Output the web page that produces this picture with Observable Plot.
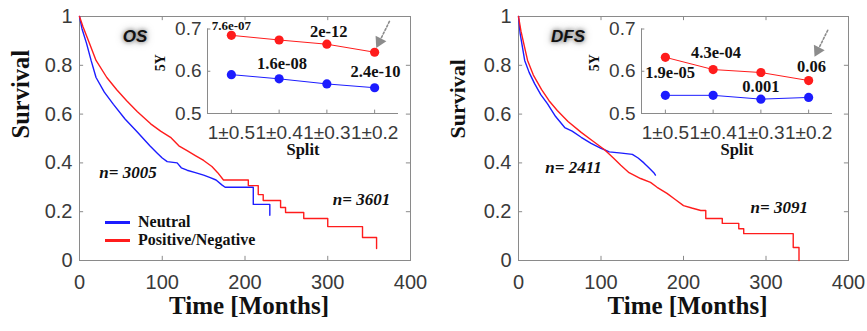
<!DOCTYPE html>
<html>
<head>
<meta charset="utf-8">
<script src="https://cdn.jsdelivr.net/npm/d3@7"></script>
<script src="https://cdn.jsdelivr.net/npm/@observablehq/plot@0.6"></script>
<style>
  html, body { margin: 0; padding: 0; background: #fff; }
  #wrap { position: relative; width: 867px; height: 331px; overflow: hidden; }
  #wrap > svg, #wrap > div { position: absolute; }
</style>
</head>
<body>
<div id="wrap"></div>
<script>
// ---------------- DATA ----------------
const seriesNames = ["Neutral", "Positive/Negative"];
const seriesColors = ["#1c1cff", "#ff1c1c"];
const timeTicks = [0, 100, 200, 300, 400];
const survTicks = [0, 0.2, 0.4, 0.6, 0.8, 1];

// OS Kaplan-Meier curves (time in months, survival)
const osNeutralT = [0, 3, 8.5, 14, 20, 30, 41, 55, 69, 85, 94, 100, 106, 118, 123, 130, 140, 150, 158, 165, 172, 176, 210, 210, 230, 230];
const osNeutralS = [1, 0.95, 0.89, 0.82, 0.75, 0.69, 0.64, 0.58, 0.53, 0.47, 0.44, 0.42, 0.405, 0.40, 0.38, 0.37, 0.36, 0.35, 0.34, 0.33, 0.31, 0.30, 0.30, 0.23, 0.23, 0.185];
const osPosT = [0, 4, 12, 20, 33, 45, 57, 70, 86, 98, 110, 120, 130, 140, 150, 160, 167, 174, 204, 204, 216, 216, 222, 222, 243, 243, 249, 249, 271, 271, 300, 300, 342, 342, 359, 359];
const osPosS = [1, 0.96, 0.89, 0.82, 0.75, 0.70, 0.655, 0.61, 0.56, 0.53, 0.505, 0.47, 0.45, 0.43, 0.41, 0.385, 0.36, 0.33, 0.33, 0.307, 0.307, 0.27, 0.27, 0.246, 0.246, 0.217, 0.217, 0.197, 0.197, 0.172, 0.172, 0.139, 0.139, 0.094, 0.094, 0.049];

// DFS Kaplan-Meier curves
const dfsNeutralT = [0, 2, 7.5, 13, 19.5, 27, 35, 45, 56, 65, 76, 88, 100, 110, 125, 138, 145, 152, 158, 164, 166];
const dfsNeutralS = [1, 0.93, 0.82, 0.77, 0.725, 0.68, 0.643, 0.59, 0.545, 0.53, 0.505, 0.48, 0.46, 0.445, 0.44, 0.435, 0.42, 0.40, 0.38, 0.36, 0.35];
const dfsPosT = [0, 3, 7, 11, 18, 28, 37, 47, 60, 76, 90, 104, 115, 124, 134, 148, 160, 168, 180, 190, 200, 210, 221, 227, 227, 247, 247, 267, 267, 273, 273, 333, 333, 340, 340];
const dfsPosS = [1, 0.94, 0.88, 0.82, 0.76, 0.70, 0.655, 0.615, 0.57, 0.525, 0.49, 0.455, 0.42, 0.39, 0.36, 0.336, 0.32, 0.30, 0.275, 0.25, 0.225, 0.215, 0.205, 0.205, 0.172, 0.172, 0.152, 0.152, 0.13, 0.13, 0.11, 0.11, 0.053, 0.053, 0];

// Inset: 5-year survival by split
const splits = ["1\u00b10.5", "1\u00b10.4", "1\u00b10.3", "1\u00b10.2"];
const os5yNeutral = [0.592, 0.582, 0.570, 0.561];
const os5yPos = [0.685, 0.674, 0.664, 0.645];
const dfs5yNeutral = [0.543, 0.543, 0.534, 0.538];
const dfs5yPos = [0.633, 0.604, 0.597, 0.578];
const osPvalues = ["7.6e-07", "1.6e-08", "2e-12", "2.4e-10"];
const dfsPvalues = ["1.9e-05", "4.3e-04", "0.001", "0.06"];

// Annotation placements (data units)
const osPNotes = [
  {x: 1.0, y: 0.708, size: 13}, {x: 2.06, y: 0.618, size: 16.5},
  {x: 3.04, y: 0.694, size: 16.5}, {x: 4.02, y: 0.599, size: 16.5}];
const dfsPNotes = [
  {x: 1.1, y: 0.597, size: 16.5}, {x: 2.06, y: 0.644, size: 16.5},
  {x: 3.0, y: 0.564, size: 16.5}, {x: 4.06, y: 0.611, size: 16.5}];
const osArrow = {x1: 4.31, y1: 0.718, x2: 4.10, y2: 0.670};
const dfsArrow = {x1: 4.40, y1: 0.697, x2: 4.19, y2: 0.649};
const osCounts = [{t: 58.6, s: 0.36, label: "n= 3005"}, {t: 340.8, s: 0.25, label: "n= 3601"}];
const dfsCounts = [{t: 66.7, s: 0.381, label: "n= 2411"}, {t: 316, s: 0.217, label: "n= 3091"}];
const osPanel = {t: 67, s: 0.918, label: "OS"};
const dfsPanel = {t: 60, s: 0.918, label: "DFS"};

// ---------------- DRAW ----------------
const SANS = "'Liberation Sans', Arial, Helvetica, sans-serif";
const SERIF = "'Liberation Serif', 'Times New Roman', serif";
const GRAY = "#8a8a8a";
const TXT = "#3a3a3a";
const wrap = document.getElementById("wrap");
const toKM = (T, S) => T.map((t, i) => ({t, s: S[i]}));

function mainChart(o) {
  const svg = Plot.plot({
    width: 430, height: 331,
    marginLeft: o.ml, marginRight: o.mr, marginTop: 16, marginBottom: 71,
    style: {background: "transparent", fontFamily: SANS, fontSize: "20px", color: TXT, overflow: "visible"},
    x: {domain: [0, 400], ticks: timeTicks, tickSize: 0, tickPadding: 14, label: null},
    y: {domain: [0, 1], ticks: survTicks, tickSize: 0, tickPadding: 7, label: null, tickFormat: d => String(+d.toFixed(1))},
    marks: [
      Plot.frame({stroke: GRAY}),
      Plot.ruleX(timeTicks, {x: d => d, y1: 0, y2: 0.017, stroke: GRAY}),
      Plot.ruleX(timeTicks, {x: d => d, y1: 1, y2: 0.983, stroke: GRAY}),
      Plot.ruleY(survTicks, {y: d => d, x1: 0, x2: 5, stroke: GRAY}),
      Plot.ruleY(survTicks, {y: d => d, x1: 400, x2: 395, stroke: GRAY}),
      Plot.line(o.neutral, {x: "t", y: "s", stroke: seriesColors[0], strokeWidth: 1.4}),
      Plot.line(o.pos, {x: "t", y: "s", stroke: seriesColors[1], strokeWidth: 1.4}),
      Plot.text(o.counts, {x: "t", y: "s", text: "label", fontFamily: SERIF, fontWeight: "bold", fontStyle: "italic", fontSize: 17, fill: "#111"}),
      Plot.text([o.panel], {x: "t", y: "s", text: "label", fontFamily: SANS, fontWeight: "bold", fontStyle: "italic", fontSize: 17, fill: "#111"}),
      Plot.text(["Survival"], {frameAnchor: "left", rotate: -90, dx: o.survDx, fontFamily: SERIF, fontWeight: "bold", fontSize: o.survSize, fill: "#111"}),
      Plot.text(["Time [Months]"], {frameAnchor: "bottom", dy: 53, dx: 4, fontFamily: SERIF, fontWeight: "bold", fontSize: 25, fill: "#111"})
    ]
  });
  svg.style.left = o.left + "px";
  svg.style.top = "0px";
  wrap.appendChild(svg);
  d3.select(svg).selectAll("text").filter(function () { return this.textContent === o.panel.label; })
    .style("text-shadow", "0 0 4px rgba(0,0,0,0.55), 0 0 9px rgba(0,0,0,0.35)");
}

function inset(o) {
  const neutral = o.neutral.map((v, i) => ({i: i + 1, v}));
  const pos = o.pos.map((v, i) => ({i: i + 1, v}));
  const notes = o.notes.map((n, i) => ({...n, label: o.pvals[i]}));
  const svg = Plot.plot({
    width: 260, height: 160,
    marginLeft: 57, marginRight: 12, marginTop: 18.5, marginBottom: 57,
    style: {background: "transparent", fontFamily: SANS, fontSize: "19px", color: TXT, overflow: "visible"},
    x: {domain: [0.5, 4.5], ticks: [1, 2, 3, 4], tickFormat: i => splits[i - 1], tickSize: 0, tickPadding: 12, label: null},
    y: {domain: [0.5, 0.7], ticks: [0.5, 0.6, 0.7], tickFormat: d => d.toFixed(1), tickSize: 0, tickPadding: 6, label: null},
    marks: [
      Plot.ruleX([0.5], {stroke: GRAY}),
      Plot.ruleY([0.5], {stroke: GRAY}),
      Plot.ruleX([1, 2, 3, 4], {x: d => d, y1: 0.5, y2: 0.508, stroke: GRAY}),
      Plot.ruleY([0.6, 0.7], {y: d => d, x1: 0.5, x2: 0.57, stroke: GRAY}),
      Plot.line(neutral, {x: "i", y: "v", stroke: seriesColors[0], strokeWidth: 1}),
      Plot.line(pos, {x: "i", y: "v", stroke: seriesColors[1], strokeWidth: 1}),
      Plot.dot(neutral, {x: "i", y: "v", r: 4.6, fill: seriesColors[0], stroke: "none"}),
      Plot.dot(pos, {x: "i", y: "v", r: 4.6, fill: seriesColors[1], stroke: "none"}),
      Plot.text(notes, {x: "x", y: "y", text: "label", fontSize: "size", fontFamily: SERIF, fontWeight: "bold", fill: "#111"}),
      Plot.arrow([o.arrow], {x1: "x1", y1: "y1", x2: "x2", y2: "y2", stroke: "#8c8c8c", strokeWidth: 1.6, strokeDasharray: "2,2", headLength: 0}),
      Plot.dot([o.arrow], {x: "x2", y: "y2", symbol: "triangle", r: 4.5, fill: "#8c8c8c", stroke: "none", rotate: 207}),
      Plot.text(["5Y"], {frameAnchor: "left", rotate: -90, dx: -47, fontFamily: SERIF, fontWeight: "bold", fontSize: 14, fill: "#111"}),
      Plot.text(["Split"], {frameAnchor: "bottom", dy: 41, fontFamily: SERIF, fontWeight: "bold", fontSize: 16.5, fill: "#111"})
    ]
  });
  svg.style.left = o.left + "px";
  svg.style.top = "10px";
  wrap.appendChild(svg);
}

mainChart({left: 0, ml: 79, mr: 20, survDx: -58, survSize: 24.5,
  neutral: toKM(osNeutralT, osNeutralS), pos: toKM(osPosT, osPosS), counts: osCounts, panel: osPanel});
mainChart({left: 437, ml: 81, mr: 19, survDx: -61, survSize: 22,
  neutral: toKM(dfsNeutralT, dfsNeutralS), pos: toKM(dfsPosT, dfsPosS), counts: dfsCounts, panel: dfsPanel});
inset({left: 150, neutral: os5yNeutral, pos: os5yPos, pvals: osPvalues, notes: osPNotes, arrow: osArrow});
inset({left: 584, neutral: dfs5yNeutral, pos: dfs5yPos, pvals: dfsPvalues, notes: dfsPNotes, arrow: dfsArrow});

// Legend (left panel)
const legend = document.createElement("div");
legend.style.cssText = "left:105px;top:213px;font:bold 16px " + SERIF + ";color:#111;line-height:18px;";
seriesNames.forEach((name, i) => {
  const row = document.createElement("div");
  row.style.cssText = "display:flex;align-items:center;white-space:nowrap;height:18px;";
  const sw = document.createElement("span");
  sw.style.cssText = "display:inline-block;width:25px;height:3px;margin-right:8px;background:" + seriesColors[i];
  row.appendChild(sw);
  row.appendChild(document.createTextNode(name));
  legend.appendChild(row);
});
wrap.appendChild(legend);
</script>
</body>
</html>
